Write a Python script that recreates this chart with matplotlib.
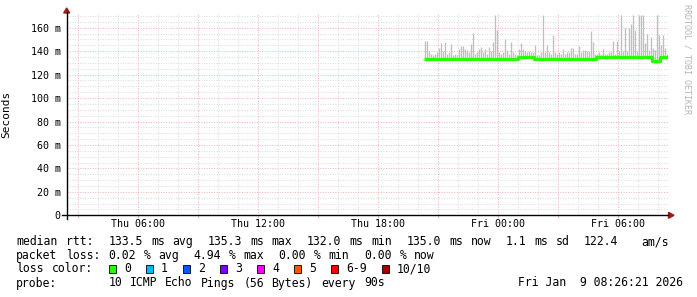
import re
import numpy as np
import matplotlib
matplotlib.use("Agg")
import matplotlib.pyplot as plt
from matplotlib.lines import Line2D
from matplotlib.patches import Polygon, Rectangle

# ---------------- data ----------------
# time in hours since Thu 00:00 (local), one sample per 6 minutes
t_start = 20.3
t_step = 0.1

median_ms = [
    133.0, 133.0, 133.0, 133.0, 133.0, 133.0, 133.0, 133.0, 133.0, 133.0,
    133.0, 133.0, 133.0, 133.0, 133.0, 133.0, 133.0, 133.0, 133.0, 133.0,
    133.0, 133.0, 133.0, 133.0, 133.0, 133.0, 133.0, 133.0, 133.0, 133.0,
    133.0, 133.0, 133.0, 133.0, 133.0, 133.0, 133.0, 133.0, 133.0, 133.0,
    133.0, 133.0, 133.0, 133.0, 133.0, 133.0, 133.0,
    135.3, 135.3, 135.3, 135.3, 135.3, 135.3, 135.3, 135.3,
    133.0, 133.0, 133.0, 133.0, 133.0, 133.0, 133.0, 133.0, 133.0, 133.0,
    133.0, 133.0, 133.0, 133.0, 133.0, 133.0, 133.0, 133.0, 133.0, 133.0,
    133.0, 133.0, 133.0, 133.0, 133.0, 133.0, 133.0, 133.0, 133.0, 133.0,
    133.0,
    135.3, 135.3, 135.3, 135.3, 135.3, 135.3, 135.3, 135.3, 135.3, 135.3,
    135.3, 135.3, 135.3, 135.3, 135.3, 135.3, 135.3, 135.3, 135.3, 135.3,
    135.3, 135.3, 135.3, 135.3, 135.3, 135.3, 135.3, 135.3,
    132.0, 132.0, 132.0, 132.0,
    135.0, 135.0, 135.0, 135.0,
]

smoke_top_ms = [
    149, 149, 140, 138, 137, 138, 139, 143, 147, 140,
    147.5, 138, 139, 146, 137, 138, 137, 142, 144.5, 144,
    142, 141, 139, 146, 155.5, 138, 139, 142, 143.5, 139,
    142, 138, 143.5, 140, 148, 171, 158, 139, 138, 139,
    150, 141, 138, 148, 139, 138, 137, 142, 147, 142,
    140, 139, 140, 139, 139, 145, 137, 137, 139, 171,
    139, 145, 139, 138, 154, 139, 138, 139, 138, 142,
    138, 139, 139, 143, 143, 138, 138, 144.6, 139, 141,
    141, 140, 140, 157, 148, 138, 138, 139, 138, 142,
    138, 138, 139, 139, 149, 138, 149, 140, 171, 140,
    160, 140, 160, 163, 171, 158, 140, 171, 171, 171,
    147, 155, 141, 152, 143, 141, 171, 154, 145, 154,
    143, 138,
]

x_range_hours = (2.439, 32.5)      # Thu 02:26 .. Fri 08:30
y_range_ms = (0, 171.7)

x_major_hours = [3, 6, 9, 12, 15, 18, 21, 24, 27, 30]
x_tick_labels = ["", "Thu 06:00", "", "Thu 12:00", "", "Thu 18:00",
                 "", "Fri 00:00", "", "Fri 06:00"]
y_major_ms = [0, 20, 40, 60, 80, 100, 120, 140, 160]
y_tick_labels = ["0", "20 m", "40 m", "60 m", "80 m", "100 m", "120 m",
                 "140 m", "160 m"]

line_rtt = "median rtt:  133.5 ms avg  135.3 ms max  132.0 ms min  135.0 ms now  1.1 ms sd  122.4   am/s"
line_loss = "packet loss: 0.02 % avg  4.94 % max  0.00 % min  0.00 % now"
line_color_head = "loss color:"
loss_labels = ["0", "1", "2", "3", "4", "5", "6-9", "10/10"]
loss_colors = ["#26ff00", "#00b8ff", "#0059ff", "#7e00ff", "#ff00ff",
               "#ff5500", "#ff0000", "#a10000"]
line_probe = "probe:       10 ICMP Echo Pings (56 Bytes) every 90s"
stamp = "Fri Jan  9 08:26:21 2026"
watermark = "RRDTOOL / TOBI OETIKER"
y_title = "Seconds"

# ---------------- figure ----------------
W, H = 697, 297
fig = plt.figure(figsize=(W / 100, H / 100), dpi=100)
fig.patch.set_facecolor("white")


def fx(px):
    return px / W


def fy(py):
    return 1 - py / H


ax_left, ax_right, ax_top, ax_bot = 66.7, 667.9, 14.0, 215.3
ax_w = (ax_right - ax_left) / W
ax = fig.add_axes([fx(ax_left), fy(ax_bot), ax_w, (ax_bot - ax_top) / H])
ax.set_facecolor("white")
ax.set_xlim(*x_range_hours)
ax.set_ylim(*y_range_ms)
for s in ax.spines.values():
    s.set_visible(False)

MONO = "DejaVu Sans Mono"
minor_c = "#dadada"
major_c = "#eeb2b2"
dot_minor = (0, (1.0, 1.6))
dot_major = (0, (1.0, 1.6))

# grid
for h in range(3, 33):
    if h % 3:
        ax.axvline(h, color=minor_c, lw=0.7, ls=dot_minor, zorder=0)
for v in range(5, 171, 5):
    if v % 20:
        ax.axhline(v, color=minor_c, lw=0.7, ls=dot_minor, zorder=0)
for h in x_major_hours:
    ax.axvline(h, color=major_c, lw=0.7, ls=dot_major, zorder=0.5)
for v in y_major_ms[1:]:
    ax.axhline(v, color=major_c, lw=0.7, ls=dot_major, zorder=0.5)

# data
n = len(median_ms)
t = t_start + t_step * np.arange(n)
med = np.array(median_ms, float)
top = np.array(smoke_top_ms, float)
# smoke: thin vertical strokes from the median up to the highest ping
ax.vlines(t + t_step * 0.5, med, top, colors="#bfbfbf", lw=0.95, zorder=2)
t_edges = np.append(t, t[-1] + t_step)
med_e = np.append(med, med[-1])
ax.plot(t_edges, med_e, drawstyle="steps-post", color=loss_colors[0], lw=2.3,
        solid_capstyle="butt", zorder=3)

# ticks
ax.set_xticks(x_major_hours)
ax.set_xticklabels(x_tick_labels, fontfamily=MONO, fontsize=7.2)
ax.set_yticks(y_major_ms)
ax.set_yticklabels(y_tick_labels, fontfamily=MONO, fontsize=7.2)
ax.tick_params(axis="x", length=2.2, width=0.7, color=major_c, pad=0.8)
ax.tick_params(axis="y", length=0, pad=4.4)
ax.set_ylabel(y_title, fontfamily=MONO, fontsize=8)
ax.yaxis.set_label_coords((fx(11) - fx(ax_left)) / ax_w, 0.5)

# axes lines + arrows (pixel coordinates)
fig.add_artist(Line2D([fx(ax_left), fx(ax_left)], [fy(219), fy(12)],
                      color="black", lw=1.0))
fig.add_artist(Line2D([fx(62), fx(668)], [fy(ax_bot), fy(ax_bot)],
                      color="black", lw=1.0))
arrow_c = "#9b1c1c"
fig.add_artist(Polygon([[fx(ax_left - 3), fy(13)], [fx(ax_left + 3), fy(13)],
                        [fx(ax_left), fy(8)]], closed=True, color=arrow_c))
fig.add_artist(Polygon([[fx(668.5), fy(ax_bot - 3)], [fx(668.5), fy(ax_bot + 3)],
                        [fx(674), fy(ax_bot)]], closed=True, color=arrow_c))

# watermark
fig.text(fx(686.5), fy(4), watermark, rotation=270, ha="center", va="top",
         fontfamily=MONO, fontsize=6.0, color="#b4b4b4")

# legend text
PITCH = 7.1
X0 = 16
LEG_FS = 8.3


def put_line(s, y, x0=X0):
    for m in re.finditer(r"\S+", s):
        fig.text(fx(x0 + m.start() * PITCH), fy(y), m.group(), ha="left",
                 va="center", fontfamily=MONO, fontsize=LEG_FS, color="black")


put_line(line_rtt, 241.7)
put_line(line_loss, 255.5)
put_line(line_color_head, 269)
put_line(line_probe, 283)
fig.text(fx(683), fy(283), stamp, ha="right", va="center", fontfamily=MONO,
         fontsize=LEG_FS, color="black")

box_x = [108.5, 145.5, 182.5, 219.5, 256.5, 293.5, 330.5, 381.5]
for bx, lab, col in zip(box_x, loss_labels, loss_colors):
    fig.add_artist(Rectangle((fx(bx), fy(272.5)), 7.5 / W, 7.5 / H,
                             facecolor=col, edgecolor="black", lw=0.6))
    fig.text(fx(bx + 15.5), fy(269), lab, ha="left", va="center",
             fontfamily=MONO, fontsize=LEG_FS, color="black")

fig.savefig("out.png", dpi=100)
